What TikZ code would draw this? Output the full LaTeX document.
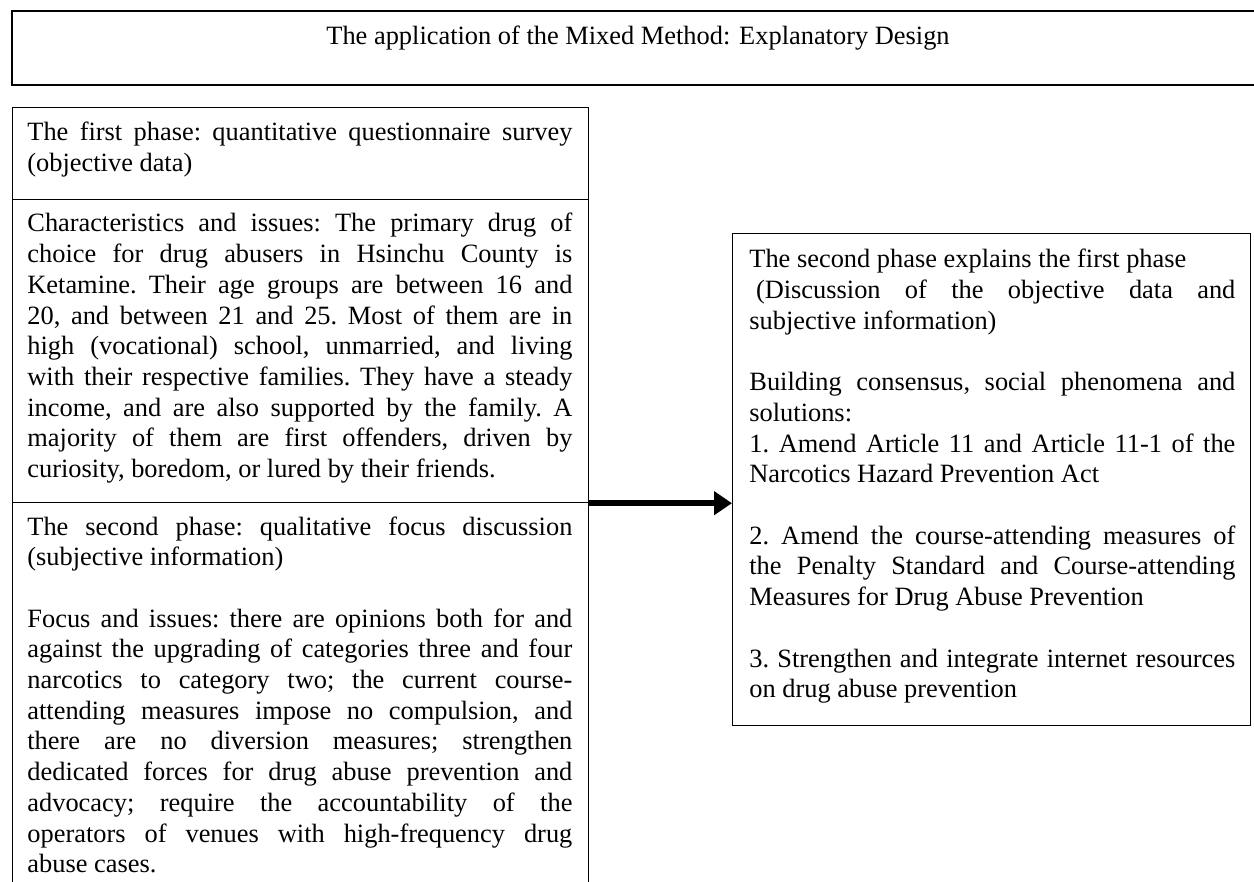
\documentclass[tikz,border=0pt]{standalone}
\usepackage{fontspec}
\setmainfont{Liberation Serif}
\usepackage{tikz}
\usetikzlibrary{arrows.meta}

\tikzset{
  framebox/.style={draw, line width=0.6pt, rectangle, inner sep=0pt, anchor=north west},
  bodytext/.style={anchor=base west, inner sep=0pt, align=justify, text width=#1,
    font=\fontsize{13.2}{15.35}\selectfont\frenchspacing},
  bodytext/.default=272.5pt,
}

\begin{document}
\begin{tikzpicture}[x=0.5pt, y=-0.5pt, line join=miter]
\useasboundingbox (0,0) rectangle (1254,882);
%%
\node (design) at (11,10)
  [framebox, line width=1pt, minimum width=627pt, minimum height=37pt] {};
\node (design_title) at (638,45)
  [anchor=base, inner sep=0pt, font=\fontsize{13.2}{15}\selectfont]
  {The application of the Mixed Method: Explanatory Design};

%%
\node (phase_one) at (12,107)
  [framebox, minimum width=288pt, minimum height=46pt] {};
\node (phase_one_data) at (12,199)
  [framebox, minimum width=288pt, minimum height=151.5pt] {};
\node (phase_two) at (12,502)
  [framebox, minimum width=288pt, minimum height=200pt] {};
\node (explain) at (732,233)
  [framebox, minimum width=259pt, minimum height=246pt] {};

%%
\node (phase_one_txt) at (27,141) [bodytext]
  {The first phase: quantitative questionnaire survey\linebreak
   (objective data)};

\node (phase_one_data_txt) at (27,232) [bodytext]
  {Characteristics and issues: The primary drug of\linebreak
   choice for drug abusers in Hsinchu County is\linebreak
   Ketamine. Their age groups are between 16 and\linebreak
   20, and between 21 and 25. Most of them are in\linebreak
   high (vocational) school, unmarried, and living\linebreak
   with their respective families. They have a steady\linebreak
   income, and are also supported by the family. A\linebreak
   majority of them are first offenders, driven by\linebreak
   curiosity, boredom, or lured by their friends.};

\node (phase_two_txt) at (27,535) [bodytext]
  {The second phase: qualitative focus discussion\linebreak
   (subjective information)\par\mbox{}\par
   Focus and issues: there are opinions both for and\linebreak
   against the upgrading of categories three and four\linebreak
   narcotics to category two; the current course-\linebreak
   attending measures impose no compulsion, and\linebreak
   there are no diversion measures; strengthen\linebreak
   dedicated forces for drug abuse prevention and\linebreak
   advocacy; require the accountability of the\linebreak
   operators of venues with high-frequency drug\linebreak
   abuse cases.};

\node (explain_txt) at (749,268) [bodytext=243pt]
  {The second phase explains the first phase\par
   \hspace*{0.25em}(Discussion of the objective data and\linebreak
   subjective information)\par\mbox{}\par
   Building consensus, social phenomena and\linebreak
   solutions:\par
   1. Amend Article 11 and Article 11-1 of the\linebreak
   Narcotics Hazard Prevention Act\par\mbox{}\par
   2. Amend the course-attending measures of\linebreak
   the Penalty Standard and Course-attending\linebreak
   Measures for Drug Abuse Prevention\par\mbox{}\par
   3. Strengthen and integrate internet resources\linebreak
   on drug abuse prevention};

%%
\draw [-{Triangle[length=9pt,width=11.5pt]}, line width=3pt]
  (phase_one_data.south east) -- (phase_one_data.south east -| explain.west);
\end{tikzpicture}
\end{document}
